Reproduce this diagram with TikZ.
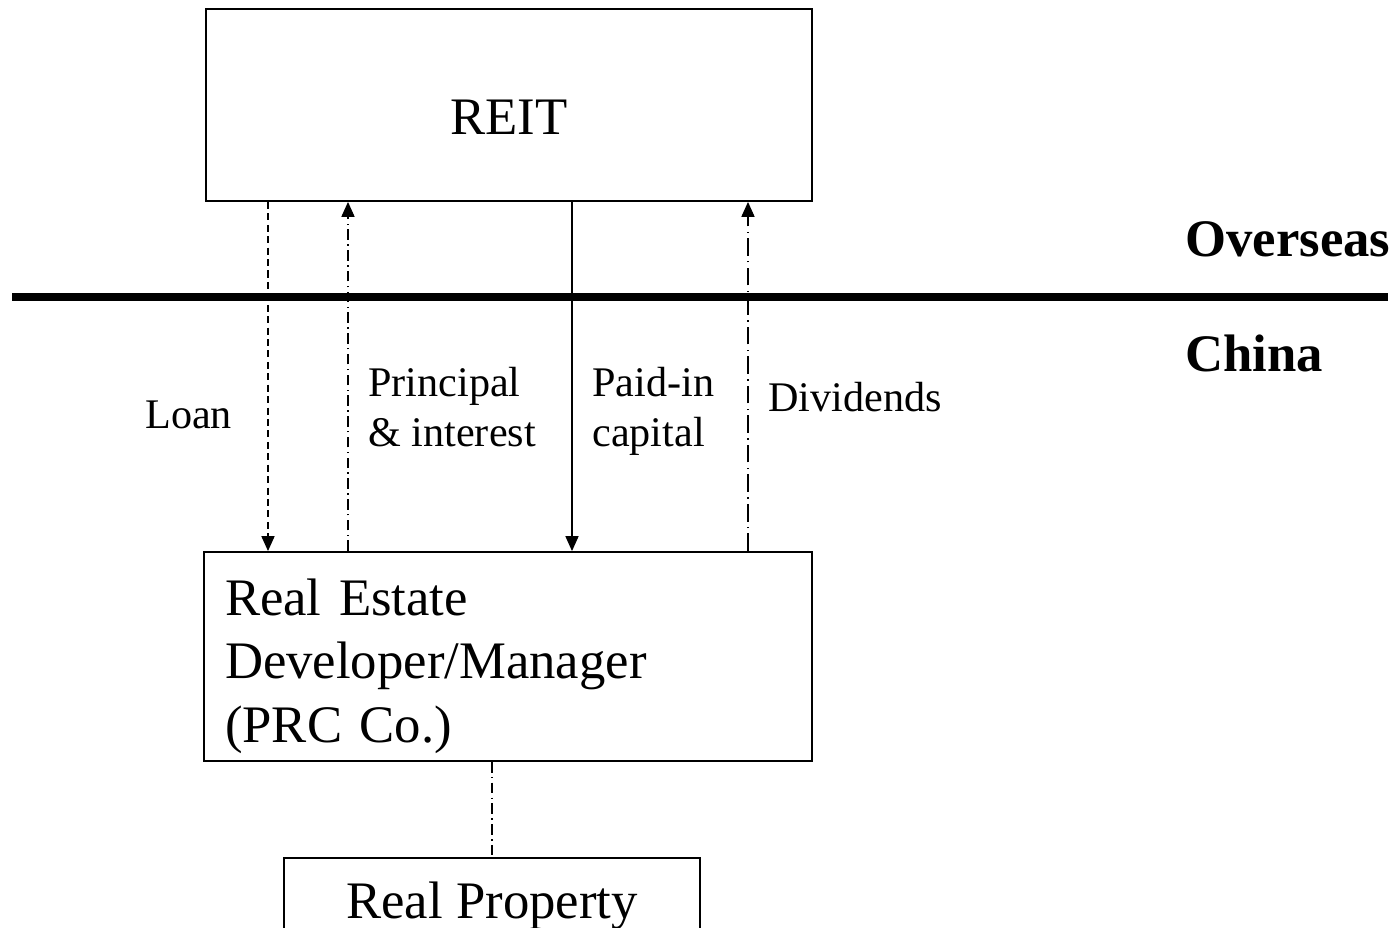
\documentclass[tikz,border=0pt]{standalone}
\usepackage{fontspec}
\setmainfont{Liberation Serif}
\usetikzlibrary{arrows.meta}

\begin{document}
\begin{tikzpicture}[
    box/.style={draw,line width=1.1pt,inner sep=0pt,font=\fontsize{30}{36.3}\selectfont},
    flow/.style={line width=0.6pt,-{Triangle[width=7.5pt,length=8.5pt]}},
    loanline/.style={flow,dash pattern=on 4pt off 2.5pt},
    repayline/.style={flow,dash pattern=on 6pt off 2.5pt on 0.8pt off 2.5pt},
    divline/.style={flow,dash pattern=on 10pt off 3pt on 0.8pt off 3pt},
    propline/.style={line width=0.6pt,dash pattern=on 6pt off 2.5pt on 0.8pt off 2.5pt},
    lbl/.style={anchor=base west,inner sep=0pt,align=left,font=\fontsize{24}{28.7}\selectfont},
    side/.style={anchor=base west,inner sep=0pt,font=\fontsize{30}{36}\selectfont\bfseries}]
        \useasboundingbox (0,0) rectangle (27.94,18.56);
        \clip (0,0) rectangle (27.94,18.56);
        % Boxes
        \node[box,minimum width=12.12cm,minimum height=3.84cm,text height=1.2cm,text depth=0pt] (reit) at (10.18,16.46) {REIT};
        \node[box,minimum width=12.16cm,minimum height=4.18cm,text width=11.32cm,align=left] (dev) at (10.16,5.43)
            {\rule{0pt}{1.2cm}Real Estate\\Developer/Manager\\(PRC Co.)\rule[-0.3cm]{0pt}{0pt}};
        \node[box,minimum width=8.32cm,inner ysep=0.3cm,text height=0.92cm,text depth=0.5cm,anchor=north] (prop) at (9.84,1.42) {Real Property};
        % Border
        \draw[line width=5pt] (0.24,12.62) -- (27.76,12.62);
        \node[side] (os) at (23.70,13.42) {Overseas};
        \node[side] (cn) at (23.70,11.12) {China};
        % Flows
        \coordinate (loanx) at (5.36,0);
        \coordinate (intx) at (6.96,0);
        \coordinate (capx) at (11.44,0);
        \coordinate (divx) at (14.96,0);
        \draw[loanline] (reit.south -| loanx) -- (dev.north -| loanx);
        \draw[repayline] (dev.north -| intx) -- (reit.south -| intx);
        \draw[flow] (reit.south -| capx) -- (dev.north -| capx);
        \draw[divline] (dev.north -| divx) -- (reit.south -| divx);
        \draw[propline] (dev.south -| prop.north) -- (prop.north);
        % Labels (two-line ones sit on their last line)
        \node[lbl] (loan) at (2.90,9.98) {Loan};
        \node[lbl] (int) at (7.36,9.62) {Principal\\\& interest};
        \node[lbl] (cap) at (11.84,9.62) {Paid-in\\capital};
        \node[lbl] (div) at (15.36,10.32) {Dividends};
\end{tikzpicture}
\end{document}
